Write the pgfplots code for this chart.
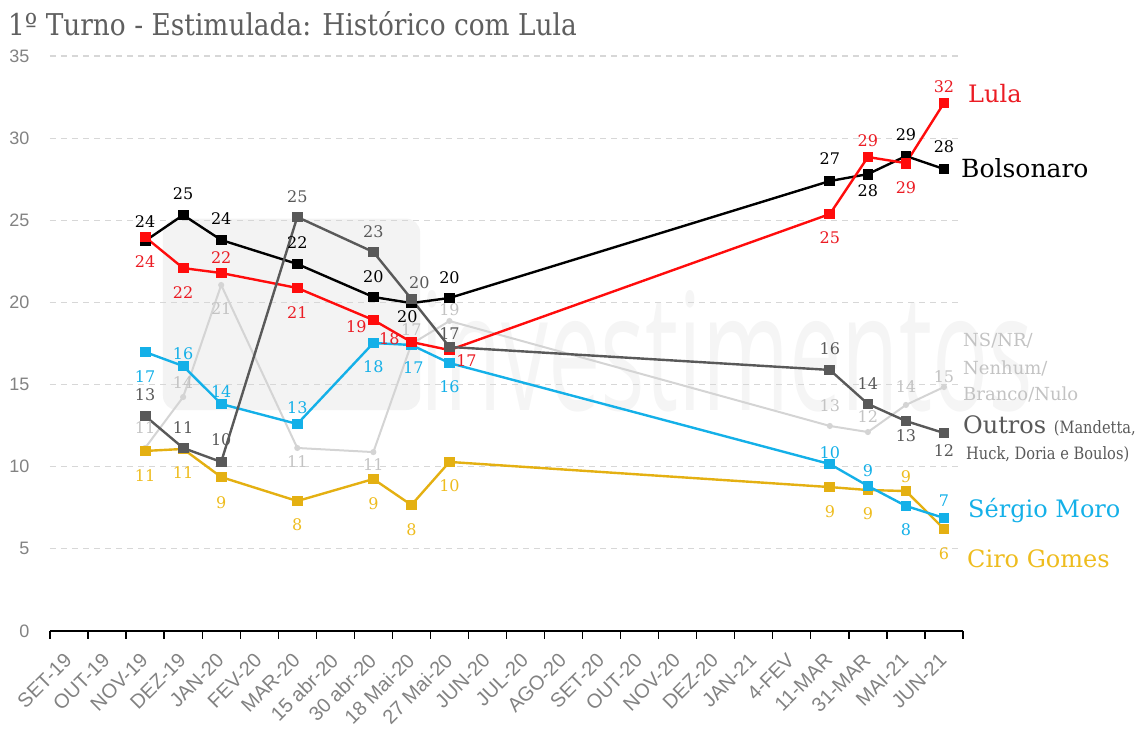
\documentclass[border=0pt]{standalone}
\usepackage{fontspec}
\setmainfont{DejaVu Serif}
\newfontfamily\tickfont{Liberation Sans}
\newfontfamily\titlefont[FakeStretch=0.88]{DejaVu Serif}
\newfontfamily\condfont[FakeStretch=0.86]{DejaVu Serif}
\newfontfamily\wmfont{Open Sans}
\usepackage{pgfplots}
\usepackage{pgfplotstable}
\pgfplotsset{compat=1.18}

\definecolor{cRed}{RGB}{255,12,12}
\definecolor{cRedT}{RGB}{235,28,36}
\definecolor{cBlack}{RGB}{0,0,0}
\definecolor{cBlue}{RGB}{20,176,232}
\definecolor{cGold}{RGB}{228,176,18}
\definecolor{cGoldT}{RGB}{238,188,30}
\definecolor{cDark}{RGB}{89,89,89}
\definecolor{cLight}{RGB}{212,212,212}
\definecolor{cLightT}{RGB}{195,195,195}
\definecolor{gridc}{RGB}{215,215,215}
\definecolor{tickc}{RGB}{130,130,130}
\definecolor{titlec}{RGB}{95,95,95}
\definecolor{wmbox}{RGB}{243,243,243}
\definecolor{wmtext}{RGB}{245,245,245}

% x: 0=SET-19 ... 23=JUN-21 ; lab = printed label ; dx,dy = label offset (pt)
\pgfplotstableread{
x y lab dx dy
2 23.98 24 0 -25
3 22.09 22 0 -24
4 21.79 22 0 15
6 20.88 21 0 -25
8 18.93 19 -17 -7
9 17.59 18 -22 3
10 17.10 17 17 -10
20 25.38 25 0 -24
21 28.85 29 0 16
22 28.48 29 0 -25
23 32.14 32 0 16
}\lula

\pgfplotstableread{
x y lab dx dy
2 23.74 24 0 19
3 25.32 25 0 21
4 23.80 24 0 21
6 22.34 22 0 21
8 20.33 20 0 20
9 19.96 20 -4 -14
10 20.27 20 0 20
20 27.39 27 0 22
21 27.81 28 0 -17
22 28.91 29 0 21
23 28.12 28 0 22
}\bolso

\pgfplotstableread{
x y lab dx dy
2 16.98 17 0 -25
3 16.13 16 0 12
4 13.82 14 0 12
6 12.60 13 0 16
8 17.53 18 0 -24
9 17.41 17 2 -23
10 16.31 16 0 -24
20 10.16 10 0 11
21 8.83 9 0 15
22 7.61 8 0 -24
23 6.88 7 0 17
}\moro

\pgfplotstableread{
x y lab dx dy
2 10.96 11 0 -25
3 11.08 11 0 -24
4 9.37 9 0 -26
6 7.91 8 0 -24
8 9.25 9 0 -25
9 7.67 8 0 -25
10 10.29 10 0 -24
20 8.76 9 0 -25
21 8.58 9 0 -24
22 8.52 9 0 14
23 6.21 6 0 -25
}\ciro

\pgfplotstableread{
x y lab dx dy
2 13.09 13 0 21
3 11.14 11 0 20
4 10.29 10 0 22
6 25.20 25 0 20
8 23.07 23 0 20
9 20.21 20 8 16
10 17.29 17 0 13
20 15.89 16 0 21
21 13.82 14 0 20
22 12.78 13 0 -15
23 12.05 12 0 -18
}\outros

\pgfplotstableread{
x y lab dx dy
2 11.14 11 0 20
3 14.24 14 0 14
4 21.06 21 0 -24
6 11.14 11 0 -14
8 10.89 11 0 -12
9 17.47 17 0 14
10 18.87 19 0 11
20 12.48 13 0 20
21 12.11 12 0 15
22 13.76 14 0 18
23 14.85 15 0 10
}\nsnr

\pgfplotsset{
  lab/.style={
    nodes near coords,
    point meta=explicit symbolic,
    visualization depends on={\thisrow{dx}\as\dx},
    visualization depends on={\thisrow{dy}\as\dy},
    every node near coord/.append style={anchor=center, inner sep=0pt,
      xshift=\dx pt, yshift=\dy pt,
      font=\fontsize{16}{18}\selectfont, text=#1},
  },
  serie/.style={color=#1, line width=2.4pt, mark=square*, mark size=4.2pt,
    mark options={solid}},
}

\begin{document}
\begin{tikzpicture}
\begin{axis}[
  scale only axis, width=913pt, height=575pt,
  xmin=-0.5, xmax=23.5, ymin=0, ymax=35,
  clip=false,
  set layers,
  axis x line*=bottom,
  axis y line*=left,
  y axis line style={draw=none},
  x axis line style={line width=1.4pt, black},
  xtick={0,...,23},
  xticklabels={SET-19,OUT-19,NOV-19,DEZ-19,JAN-20,FEV-20,MAR-20,15 abr-20,30 abr-20,18 Mai-20,27 Mai-20,JUN-20,JUL-20,AGO-20,SET-20,OUT-20,NOV-20,DEZ-20,JAN-21,4-FEV,11-MAR,31-MAR,MAI-21,JUN-21},
  minor xtick={-0.5,0.5,...,23.5},
  xtick align=outside,
  major x tick style={draw=none},
  minor x tick style={black, line width=1.3pt},
  minor tick length=8pt,
  ytick={0,5,...,35},
  ytick style={draw=none},
  ymajorgrids,
  major grid style={color=gridc, line width=1.1pt, dash pattern=on 6pt off 5pt},
  /pgf/number format/assume math mode=true,
  tick label style={font=\tickfont\fontsize{18}{20}\selectfont, text=tickc},
  xticklabel style={xshift=-6pt, yshift=-15pt, rotate=45, anchor=north east,
    font=\tickfont\fontsize{20}{22}\selectfont, inner sep=1pt},
  yticklabel style={anchor=east, xshift=-17pt},
]
\begin{pgfonlayer}{axis background}
\fill[wmbox, rounded corners=14pt] (axis cs:2.47,13.45) rectangle (axis cs:9.23,25.1);
\node[anchor=base west, inner sep=0pt, text=wmtext] at (axis cs:9.23,13.45)
  {\resizebox{613pt}{120pt}{\wmfont investimentos}};
\end{pgfonlayer}

\addplot[color=cLight, line width=2pt, mark=*, mark size=2pt, lab=cLightT]
  table[x=x, y=y, meta=lab]{\nsnr};
\addplot[serie=cGold, lab=cGoldT] table[x=x, y=y, meta=lab]{\ciro};
\addplot[serie=cBlue, lab=cBlue] table[x=x, y=y, meta=lab]{\moro};
\addplot[serie=cBlack, lab=cBlack] table[x=x, y=y, meta=lab]{\bolso};
\addplot[serie=cRed, lab=cRedT] table[x=x, y=y, meta=lab]{\lula};
\addplot[serie=cDark, lab=cDark] table[x=x, y=y, meta=lab]{\outros};
\end{axis}

% title
\node[anchor=base west, inner sep=0pt, text=titlec] at (-42pt,595pt)
  {\titlefont\fontsize{30}{32}\selectfont 1º Turno - Estimulada: Histórico com Lula};

% series names
\node[anchor=base west, inner sep=0pt, text=cRedT] at (918pt,528pt)
  {\fontsize{24}{26}\selectfont Lula};
\node[anchor=base west, inner sep=0pt, text=black] at (911pt,453pt)
  {\fontsize{25}{27}\selectfont Bolsonaro};
\node[anchor=base west, inner sep=0pt, text=cLightT] at (913pt,284pt)
  {\fontsize{18}{20}\selectfont NS/NR/};
\node[anchor=base west, inner sep=0pt, text=cLightT] at (913pt,256pt)
  {\fontsize{18}{20}\selectfont Nenhum/};
\node[anchor=base west, inner sep=0pt, text=cLightT] at (913pt,230pt)
  {\fontsize{18}{20}\selectfont Branco/Nulo};
\node[anchor=base west, inner sep=0pt, text=cDark] at (913pt,197pt)
  {\fontsize{24}{26}\selectfont Outros \condfont\fontsize{17}{19}\selectfont(Mandetta,};
\node[anchor=base west, inner sep=0pt, text=cDark] at (916pt,171pt)
  {\condfont\fontsize{17}{19}\selectfont Huck, Doria e Boulos)};
\node[anchor=base west, inner sep=0pt, text=cBlue] at (918pt,113pt)
  {\fontsize{24}{26}\selectfont Sérgio Moro};
\node[anchor=base west, inner sep=0pt, text=cGoldT] at (917pt,63pt)
  {\fontsize{24}{26}\selectfont Ciro Gomes};

\pgfresetboundingbox
\path[use as bounding box] (-50pt,-102pt) rectangle (1096pt,631pt);
\end{tikzpicture}
\end{document}
